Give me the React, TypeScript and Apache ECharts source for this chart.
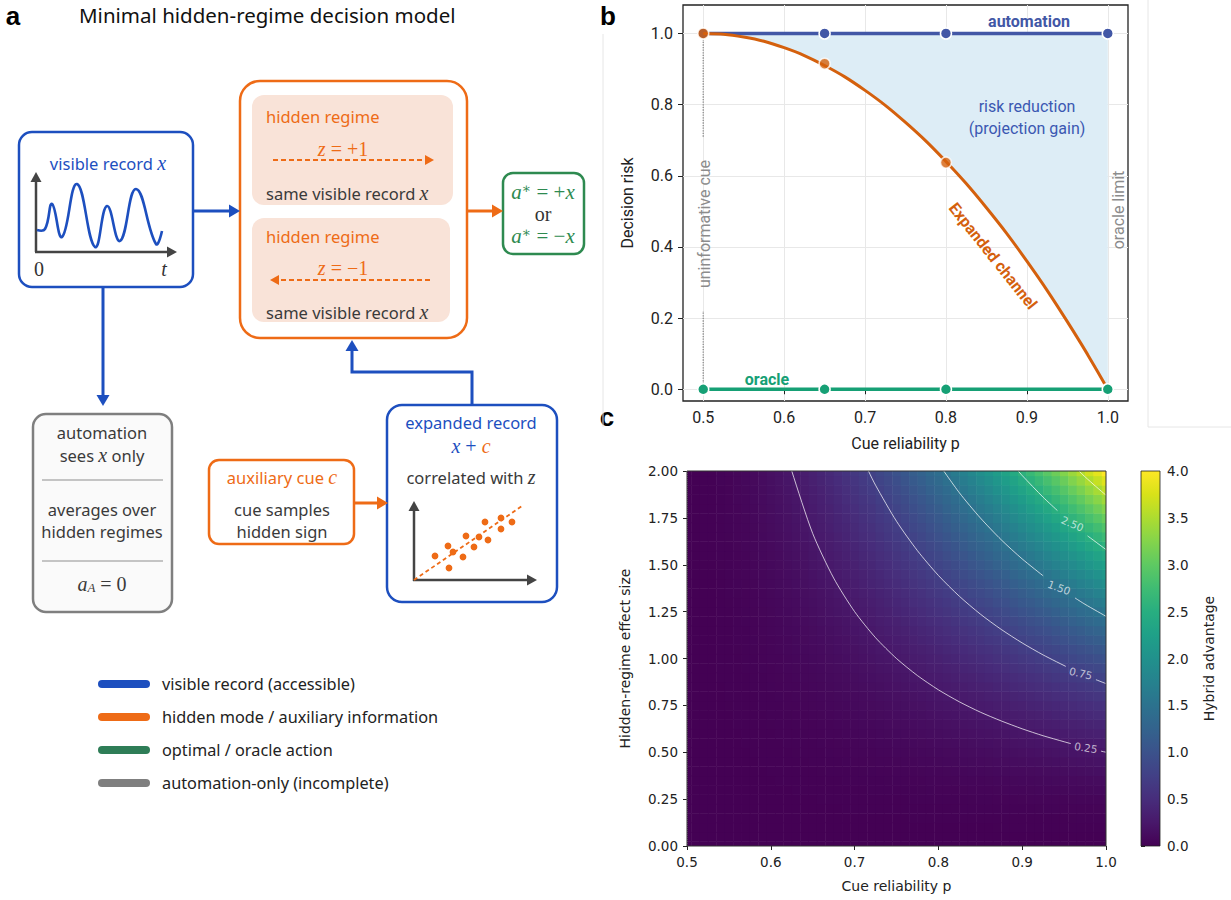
import React, { useEffect, useRef } from 'react';
import * as echarts from 'echarts';

const SANS = '"Noto Sans", "DejaVu Sans", sans-serif';
const SERIF = '"Liberation Serif", "DejaVu Serif", serif';
const PLOT = 'Roboto, "Noto Sans", sans-serif';
const MPL = '"DejaVu Sans", sans-serif';

// ---------- panel b data ----------
const reliabilityTicks = [0.5, 0.6, 0.7, 0.8, 0.9, 1.0];
const riskTicks = [0, 0.2, 0.4, 0.6, 0.8, 1.0];
const reliabilityFine = [0.5, 0.525, 0.55, 0.575, 0.6, 0.625, 0.65, 0.675, 0.7, 0.725, 0.75, 0.775, 0.8, 0.825, 0.85, 0.875, 0.9, 0.925, 0.95, 0.975, 1.0];
const expandedRisk = [1.0, 0.998, 0.99, 0.978, 0.96, 0.938, 0.91, 0.878, 0.84, 0.798, 0.75, 0.698, 0.64, 0.578, 0.51, 0.438, 0.36, 0.278, 0.19, 0.098, 0.0];
const markerReliability = [0.5, 0.65, 0.8, 1.0];
const automationRisk = [1.0, 1.0, 1.0, 1.0];
const expandedMarkerRisk = [1.0, 0.915, 0.637, 0.0];
const oracleRisk = [0.0, 0.0, 0.0, 0.0];

// ---------- panel c data ----------
const heatReliability = [0.5, 0.51, 0.52, 0.53, 0.54, 0.55, 0.56, 0.57, 0.58, 0.59, 0.6, 0.61, 0.62, 0.63, 0.64, 0.65, 0.66, 0.67, 0.68, 0.69, 0.7, 0.71, 0.72, 0.73, 0.74, 0.75, 0.76, 0.77, 0.78, 0.79, 0.8, 0.81, 0.82, 0.83, 0.84, 0.85, 0.86, 0.87, 0.88, 0.89, 0.9, 0.91, 0.92, 0.93, 0.94, 0.95, 0.96, 0.97, 0.98, 0.99, 1.0];
// advantage along the top row (effect size 2.0)
const advantageAtMaxEffect = [0, 0.0, 0.01, 0.01, 0.03, 0.04, 0.06, 0.08, 0.10, 0.13, 0.16, 0.19, 0.23, 0.27, 0.31, 0.36, 0.41, 0.46, 0.52, 0.58, 0.64, 0.71, 0.77, 0.85, 0.92, 1.00, 1.08, 1.17, 1.25, 1.35, 1.44, 1.54, 1.64, 1.74, 1.85, 1.96, 2.07, 2.19, 2.31, 2.43, 2.56, 2.69, 2.82, 2.96, 3.10, 3.24, 3.39, 3.53, 3.69, 3.84, 4.00];
const heatEffectSize = [0, 0.05, 0.1, 0.15, 0.2, 0.25, 0.3, 0.35, 0.4, 0.45, 0.5, 0.55, 0.6, 0.65, 0.7, 0.75, 0.8, 0.85, 0.9, 0.95, 1.0, 1.05, 1.1, 1.15, 1.2, 1.25, 1.3, 1.35, 1.4, 1.45, 1.5, 1.55, 1.6, 1.65, 1.7, 1.75, 1.8, 1.85, 1.9, 1.95, 2.0];
// advantage along the right column (reliability 1.0)
const advantageAtFullReliability = [0.00, 0.00, 0.01, 0.02, 0.04, 0.06, 0.09, 0.12, 0.16, 0.20, 0.25, 0.30, 0.36, 0.42, 0.49, 0.56, 0.64, 0.72, 0.81, 0.90, 1.00, 1.10, 1.21, 1.32, 1.44, 1.56, 1.69, 1.82, 1.96, 2.10, 2.25, 2.40, 2.56, 2.72, 2.89, 3.06, 3.24, 3.42, 3.61, 3.80, 4.00];

const contour025a = [[0.62, 2.083], [0.625, 2.0], [0.65, 1.667], [0.675, 1.429], [0.7, 1.25], [0.725, 1.111], [0.75, 1.0], [0.775, 0.909], [0.8, 0.833], [0.825, 0.769], [0.85, 0.714], [0.875, 0.667], [0.9, 0.625], [0.925, 0.588], [0.95, 0.556], [0.958, 0.546]];
const contour025b = [[0.994, 0.506], [1.0, 0.5]];
const contour075a = [[0.71, 2.062], [0.7165, 2.0], [0.725, 1.924], [0.75, 1.732], [0.775, 1.575], [0.8, 1.443], [0.825, 1.332], [0.85, 1.237], [0.875, 1.155], [0.9, 1.083], [0.925, 1.019], [0.952, 0.958]];
const contour075b = [[0.988, 0.887], [1.0, 0.866]];
const contour150a = [[0.8, 2.041], [0.825, 1.884], [0.85, 1.75], [0.875, 1.633], [0.9, 1.531], [0.925, 1.441]];
const contour150b = [[0.963, 1.323], [0.975, 1.289], [1.0, 1.225]];
const contour250a = [[0.89, 2.027], [0.9, 1.976], [0.925, 1.86], [0.942, 1.789]];
const contour250b = [[0.978, 1.654], [1.0, 1.581]];
const contour350a = [[0.965, 2.012], [0.975, 1.969], [0.9875, 1.919], [1.0, 1.871]];

const contourLabelText = ['0.25', '0.75', '1.50', '2.50'];
const contourLabelReliability = [0.976, 0.970, 0.944, 0.960];
const contourLabelEffect = [0.525, 0.921, 1.379, 1.719];
const contourLabelRotate = [-9, -13, -20, -23];

const viridis = ['#440154', '#48186a', '#472d7b', '#424086', '#3b528b', '#33638d', '#2c728e', '#26828e', '#21918c', '#1fa088', '#28ae80', '#3fbc73', '#5ec962', '#84d44b', '#addc30', '#d8e219', '#fde725'];

// ---------- panel a legend ----------
const legendLabels = ['visible record (accessible)', 'hidden mode / auxiliary information', 'optimal / oracle action', 'automation-only (incomplete)'];

const BLUE = '#1d4fbf';
const ORANGE = '#ee6b16';
const GREEN = '#2e8a50';
const GRAYB = '#7f7f7f';
const DARK = '#3a3a3a';
const PEACH = '#f9e3d8';
const legendColors = [BLUE, ORANGE, '#2e7d57', GRAYB];

const C_AUTO = '#4257a6';
const C_EXP = '#d4600d';
const C_ORACLE = '#16a075';
const C_FILL = '#ddedf6';

const FS = 16.5; // diagram body text
const MS = 20; // diagram math text

function txt(x: number, y: number, t: string, o: any = {}) {
  return {
    type: 'text', x, y, rotation: o.rot || 0, z: 100, silent: true,
    style: {
      text: t, x: 0, y: 0, fill: o.color || DARK, fontSize: o.size || FS,
      fontFamily: o.family || SANS, fontWeight: o.weight || 'normal',
      fontStyle: o.italic ? 'italic' : 'normal', align: o.align || 'center',
      verticalAlign: 'middle', rich: o.rich,
    },
  };
}
function seg(x1: number, y1: number, x2: number, y2: number, color: string, w: number, dash?: number[], cap = 'butt') {
  return { type: 'line', z: 100, silent: true, shape: { x1, y1, x2, y2 }, style: { stroke: color, lineWidth: w, lineDash: dash, lineCap: cap } };
}
function head(tx: number, ty: number, dir: string, color: string, len = 10, half = 6) {
  let pts: number[][] = [];
  if (dir === 'right') pts = [[tx, ty], [tx - len, ty - half], [tx - len, ty + half]];
  if (dir === 'left') pts = [[tx, ty], [tx + len, ty - half], [tx + len, ty + half]];
  if (dir === 'up') pts = [[tx, ty], [tx - half, ty + len], [tx + half, ty + len]];
  if (dir === 'down') pts = [[tx, ty], [tx - half, ty - len], [tx + half, ty - len]];
  return { type: 'polygon', z: 100, silent: true, shape: { points: pts }, style: { fill: color } };
}
function box(x: number, y: number, w: number, h: number, r: number, stroke: string | null, fill: string, lw = 2.5) {
  return { type: 'rect', z: 99, silent: true, shape: { x, y, width: w, height: h, r }, style: { stroke: stroke || 'none', fill, lineWidth: stroke ? lw : 0 } };
}
function rs(color: string, size = FS) {
  return { fontFamily: SANS, fontSize: size, fill: color, color };
}
function rm(color: string, size = MS) {
  return { fontFamily: SERIF, fontStyle: 'italic', fontSize: size, fill: color, color };
}
function rn(color: string, size = MS) {
  return { fontFamily: SERIF, fontSize: size, fill: color, color };
}

function buildGraphics() {
  const G: any[] = [];
  // panel labels & title
  const LBL = '"Liberation Sans", Arial, sans-serif';
  G.push(txt(13, 16, 'a', { size: 26, weight: 'bold', family: LBL, color: '#000' }));
  G.push(txt(79, 15, 'Minimal hidden-regime decision model', { size: 20.5, align: 'left', color: '#111' }));
  G.push(txt(608, 16, 'b', { size: 26, weight: 'bold', family: LBL, color: '#000' }));
  G.push(txt(607, 417, 'c', { size: 26, weight: 'bold', family: LBL, color: '#000' }));

  // faint panel borders
  G.push(seg(603, 34, 603, 427, '#e6e6e6', 1));
  G.push(seg(1148, 0, 1148, 427, '#e6e6e6', 1));
  G.push(seg(1148, 427, 1231, 427, '#e6e6e6', 1));

  // visible record box
  G.push(box(19, 132, 174, 155, 13, BLUE, '#fff'));
  G.push(txt(108, 163, '{s|visible record }{m|x}', { rich: { s: rs(BLUE), m: rm(BLUE) } }));
  G.push(seg(36, 252, 36, 180, '#444', 2.5));
  G.push(head(36, 172, 'up', '#444', 10, 5.5));
  G.push(seg(35, 252, 168, 252, '#444', 2.5));
  G.push(head(177, 252, 'right', '#444', 10, 5.5));
  G.push({
    type: 'polyline', z: 100, silent: true,
    shape: { points: [[37, 230], [45, 229], [52, 204], [62, 237], [77, 184], [95, 247], [107, 206], [120, 241], [136, 189], [156, 244], [162, 231]], smooth: 0.45 },
    style: { stroke: BLUE, lineWidth: 2.6, fill: 'none' },
  });
  G.push(txt(39, 269, '0', { family: SERIF, size: MS, color: '#333' }));
  G.push(txt(164, 269, 't', { family: SERIF, size: MS, italic: true, color: '#333' }));

  // arrow visible -> hidden regime
  G.push(seg(193, 211, 230, 211, BLUE, 3));
  G.push(head(240, 211, 'right', BLUE, 11, 6.5));

  // hidden regime box
  G.push(box(240, 81, 227, 257, 20, ORANGE, '#fff'));
  G.push(box(252, 95, 201, 110, 12, null, PEACH));
  G.push(box(252, 218, 198, 104, 12, null, PEACH));
  G.push(txt(266, 116, 'hidden regime', { align: 'left', color: ORANGE }));
  G.push(txt(266, 236, 'hidden regime', { align: 'left', color: ORANGE }));
  G.push(txt(343, 149, '{m|z}{n| = +1}', { rich: { m: rm(ORANGE), n: rn(ORANGE) } }));
  G.push(txt(343, 268, '{m|z}{n| = \u22121}', { rich: { m: rm(ORANGE), n: rn(ORANGE) } }));
  G.push(seg(273, 160, 425, 160, ORANGE, 2, [5, 3]));
  G.push(head(434, 160, 'right', ORANGE, 9, 5));
  G.push(seg(430, 280, 279, 280, ORANGE, 2, [5, 3]));
  G.push(head(270, 280, 'left', ORANGE, 9, 5));
  G.push(txt(266, 193, '{s|same visible record }{m|x}', { align: 'left', rich: { s: rs(DARK), m: rm(DARK) } }));
  G.push(txt(266, 312, '{s|same visible record }{m|x}', { align: 'left', rich: { s: rs(DARK), m: rm(DARK) } }));

  // arrow -> oracle box
  G.push(seg(467, 211, 493, 211, ORANGE, 3));
  G.push(head(503, 211, 'right', ORANGE, 11, 6.5));
  G.push(box(503, 173, 81, 81, 10, GREEN, '#fff'));
  const gRich = {
    m: rm(GREEN, 21),
    t: { fontFamily: SERIF, fontSize: 14, fill: GREEN, color: GREEN, verticalAlign: 'top' },
    n: rn(GREEN, 21),
  };
  G.push(txt(543, 192, '{m|a}{t|\u2217}{n| = +}{m|x}', { rich: gRich }));
  G.push(txt(543, 214, 'or', { family: SERIF, size: MS, color: '#333' }));
  G.push(txt(543, 236, '{m|a}{t|\u2217}{n| = \u2212}{m|x}', { rich: gRich }));

  // automation branch
  G.push(seg(103, 287, 103, 396, BLUE, 3));
  G.push(head(103, 406, 'down', BLUE, 11, 6.5));
  G.push(box(33, 414, 139, 198, 13, GRAYB, '#fafafa'));
  G.push(txt(102, 432, 'automation'));
  G.push(txt(102, 455, '{s|sees }{m|x}{s| only}', { rich: { s: rs(DARK), m: rm(DARK) } }));
  G.push(seg(42, 480, 163, 480, '#c4c4c4', 2));
  G.push(txt(102, 509, 'averages over'));
  G.push(txt(102, 531, 'hidden regimes'));
  G.push(seg(42, 561, 163, 561, '#c4c4c4', 2));
  G.push(txt(102, 584, '{m|a}{b|A}{n| = 0}', {
    rich: {
      m: rm(DARK), b: { fontFamily: SERIF, fontStyle: 'italic', fontSize: 13, fill: DARK, color: DARK, verticalAlign: 'bottom', padding: [6, 0, 0, 0] },
      n: rn(DARK),
    },
  }));

  // auxiliary cue
  G.push(box(209, 460, 145, 84, 10, ORANGE, '#fff'));
  G.push(txt(282, 477, '{s|auxiliary cue }{m|c}', { rich: { s: rs(ORANGE), m: rm(ORANGE) } }));
  G.push(txt(282, 509, 'cue samples'));
  G.push(txt(282, 531, 'hidden sign'));
  G.push(seg(354, 503, 378, 503, ORANGE, 3));
  G.push(head(388, 503, 'right', ORANGE, 11, 6.5));

  // expanded record
  G.push(box(387, 405, 170, 197, 15, BLUE, '#fff'));
  G.push(txt(471, 422, 'expanded record', { color: BLUE }));
  G.push(txt(471, 446, '{b|x}{p| + }{o|c}', { rich: { b: rm(BLUE), p: rn(BLUE), o: rm(ORANGE) } }));
  G.push(txt(471, 477, '{s|correlated with }{m|z}', { rich: { s: rs(DARK), m: rm(DARK) } }));
  G.push(seg(414, 581, 414, 509, '#444', 2.5));
  G.push(head(414, 501, 'up', '#444', 10, 5.5));
  G.push(seg(413, 580, 528, 580, '#444', 2.5));
  G.push(head(537, 580, 'right', '#444', 10, 5.5));
  G.push(seg(414, 580, 522, 506, ORANGE, 1.8, [4, 3]));
  const dots = [[435, 556], [448, 546], [453, 552], [449, 568], [463, 557], [466, 536], [474, 547], [479, 537], [485, 522], [488, 540], [501, 518], [501, 529], [512, 522]];
  dots.forEach(([cx, cy]) => G.push({ type: 'circle', z: 100, silent: true, shape: { cx, cy, r: 3.4 }, style: { fill: ORANGE } }));
  G.push({ type: 'polyline', z: 100, silent: true, shape: { points: [[472, 405], [472, 372], [352, 372], [352, 350]] }, style: { stroke: BLUE, lineWidth: 3, fill: 'none' } });
  G.push(head(352, 340, 'up', BLUE, 11, 6.5));

  // legend
  legendLabels.forEach((lab, i) => {
    const y = 684 + i * 33;
    G.push(seg(102, y, 146, y, legendColors[i], 8, undefined, 'round'));
    G.push(txt(162, y, lab, { align: 'left', color: '#222', size: 16.3 }));
  });

  // panel b annotations
  G.push(txt(1029, 21, 'automation', { family: PLOT, weight: 'bold', size: 16, color: C_AUTO }));
  G.push(txt(1027, 106, 'risk reduction', { family: PLOT, size: 16, color: '#3b58b2' }));
  G.push(txt(1027, 128, '(projection gain)', { family: PLOT, size: 16, color: '#3b58b2' }));
  G.push(txt(993, 256, 'Expanded channel', { family: PLOT, weight: 'bold', size: 16, color: C_EXP, rot: -0.9 }));
  G.push(txt(767, 379, 'oracle', { family: PLOT, weight: 'bold', size: 16, color: C_ORACLE }));
  G.push(txt(704, 224, 'uninformative cue', { family: PLOT, size: 16, color: '#8c8c8c', rot: Math.PI / 2 }));
  G.push(txt(1118, 210, 'oracle limit', { family: PLOT, size: 16, color: '#8c8c8c', rot: Math.PI / 2 }));

  // panel c frame & colorbar
  G.push({ type: 'rect', z: 100, silent: true, shape: { x: 687, y: 471, width: 419, height: 375 }, style: { fill: 'none', stroke: '#333', lineWidth: 1 } });
  G.push({
    type: 'rect', z: 99, silent: true, shape: { x: 1141, y: 471, width: 19, height: 375 },
    style: {
      stroke: '#222', lineWidth: 0.8,
      fill: { type: 'linear', x: 0, y: 1, x2: 0, y2: 0, colorStops: viridis.map((c, i) => ({ offset: i / (viridis.length - 1), color: c })) },
    },
  });
  return G;
}

const fmtTenth = (v: number) => { const r = Math.round(v * 10); return Math.abs(v * 10 - r) < 1e-6 ? (r / 10).toFixed(1) : ''; };
const fmtFifth = (v: number) => { const r = Math.round(v * 5); return Math.abs(v * 5 - r) < 1e-6 ? (r / 5).toFixed(1) : ''; };

function buildOption() {
  const series: any[] = [];
  // risk reduction fill
  series.push({
    type: 'custom', xAxisIndex: 0, yAxisIndex: 0, silent: true, z: 1,
    data: [[markerReliability[0], automationRisk[0]]],
    encode: { x: 0, y: 1 },
    renderItem: (_p: any, api: any) => {
      const pts: number[][] = [];
      markerReliability.forEach((p, i) => pts.push(api.coord([p, automationRisk[i]])));
      for (let i = reliabilityFine.length - 1; i >= 0; i--) pts.push(api.coord([reliabilityFine[i], expandedRisk[i]]));
      return { type: 'polygon', shape: { points: pts }, style: { fill: C_FILL } };
    },
  });
  const dotted = { color: '#8c8c8c', width: 1.3, type: 'dotted' };
  series.push({ type: 'line', xAxisIndex: 0, yAxisIndex: 0, data: [[0.5, 0], [0.5, 0.22]], symbol: 'none', lineStyle: dotted, silent: true, z: 2 });
  series.push({ type: 'line', xAxisIndex: 0, yAxisIndex: 0, data: [[0.5, 0.71], [0.5, 1.0]], symbol: 'none', lineStyle: dotted, silent: true, z: 2 });
  series.push({
    type: 'line', name: 'automation', xAxisIndex: 0, yAxisIndex: 0, z: 3,
    data: markerReliability.map((p, i) => [p, automationRisk[i]]),
    symbol: 'circle', symbolSize: 11, lineStyle: { color: C_AUTO, width: 3.5 },
    itemStyle: { color: C_AUTO, borderColor: '#fff', borderWidth: 1.5 },
  });
  series.push({
    type: 'line', name: 'Expanded channel', xAxisIndex: 0, yAxisIndex: 0, z: 4,
    data: reliabilityFine.map((p, i) => [p, expandedRisk[i]]),
    smooth: 0.2, symbol: 'none', lineStyle: { color: C_EXP, width: 3 },
  });
  series.push({
    type: 'scatter', xAxisIndex: 0, yAxisIndex: 0, z: 5,
    data: markerReliability.map((p, i) => [p, expandedMarkerRisk[i]]),
    symbolSize: 11, itemStyle: { color: C_EXP, borderColor: '#fff', borderWidth: 1.5 },
  });
  series.push({
    type: 'line', name: 'oracle', xAxisIndex: 0, yAxisIndex: 0, z: 6,
    data: markerReliability.map((p, i) => [p, oracleRisk[i]]),
    symbol: 'circle', symbolSize: 11, lineStyle: { color: C_ORACLE, width: 3.5 },
    itemStyle: { color: C_ORACLE, borderColor: '#fff', borderWidth: 1.5 },
  });

  // heatmap
  const heatData: number[][] = [];
  heatEffectSize.forEach((d, j) => {
    heatReliability.forEach((p, i) => {
      heatData.push([p, d, (advantageAtMaxEffect[i] * advantageAtFullReliability[j]) / 4]);
    });
  });
  const heatIndex = series.length;
  series.push({
    type: 'custom', xAxisIndex: 1, yAxisIndex: 1, silent: true, clip: true, z: 2,
    dimensions: ['p', 'd', 'adv'], encode: { x: 0, y: 1 },
    data: heatData,
    renderItem: (_p: any, api: any) => {
      const p = api.value(0), d = api.value(1);
      const tl = api.coord([p - 0.005, d + 0.025]);
      const br = api.coord([p + 0.005, d - 0.025]);
      return {
        type: 'rect',
        shape: { x: tl[0], y: tl[1], width: br[0] - tl[0] + 0.5, height: br[1] - tl[1] + 0.5 },
        style: { fill: api.visual('color') },
      };
    },
  });
  const contourSegments = [contour025a, contour025b, contour075a, contour075b, contour150a, contour150b, contour250a, contour250b, contour350a];
  contourSegments.forEach((s) => series.push({
    type: 'line', xAxisIndex: 1, yAxisIndex: 1, data: s, smooth: 0.25,
    symbol: 'none', silent: true, z: 5, lineStyle: { color: 'rgba(255,255,255,0.72)', width: 1 },
  }));
  series.push({
    type: 'scatter', xAxisIndex: 1, yAxisIndex: 1, silent: true, z: 6, symbolSize: 0.1,
    itemStyle: { color: 'transparent' },
    data: contourLabelText.map((t, i) => ({ name: t, value: [contourLabelReliability[i], contourLabelEffect[i]], label: { rotate: contourLabelRotate[i] } })),
    label: { show: true, position: 'inside', formatter: '{b}', color: 'rgba(255,255,255,0.85)', fontSize: 10.5, fontFamily: MPL },
  });
  series.push({
    type: 'line', xAxisIndex: 1, yAxisIndex: 1, data: [[0.5, 0], [0.5, 2]], symbol: 'none', silent: true, z: 6, clip: false,
    lineStyle: { color: 'rgba(255,255,255,0.55)', width: 1, type: 'dotted' },
  });

  const tickStyle = { color: '#222', width: 1 };
  const nameB = { fontSize: 16, fontFamily: PLOT, color: '#222' };
  const nameC = { fontSize: 14, fontFamily: MPL, color: '#222' };
  return {
    animation: false,
    backgroundColor: '#fff',
    grid: [
      { left: 683, top: 5, width: 445, height: 396, show: true, borderColor: '#222', borderWidth: 1.3, backgroundColor: 'transparent', containLabel: false, outerBoundsMode: 'none' },
      { left: 687, top: 471, width: 419, height: 375, containLabel: false, outerBoundsMode: 'none' },
      { left: 1141, top: 471, width: 19, height: 375, containLabel: false, outerBoundsMode: 'none' },
    ],
    xAxis: [
      {
        gridIndex: 0, type: 'value', min: 0.475, max: 1.025,
        axisLine: { show: false },
        axisTick: { show: true, length: 5, lineStyle: tickStyle, customValues: reliabilityTicks },
        axisLabel: { show: true, margin: 8, fontSize: 16, fontFamily: PLOT, color: '#222', formatter: fmtTenth, customValues: reliabilityTicks },
        splitLine: { show: true, lineStyle: { color: '#e8e8e8', width: 1 } },
        name: 'Cue reliability p', nameLocation: 'middle', nameGap: 34, nameTextStyle: nameB,
      },
      {
        gridIndex: 1, type: 'value', min: 0.5, max: 1.0, interval: 0.1,
        axisLine: { show: false },
        axisTick: { show: true, length: 4, lineStyle: tickStyle },
        axisLabel: { show: true, margin: 9, fontSize: 13.5, fontFamily: MPL, color: '#222', formatter: (v: number) => v.toFixed(1) },
        splitLine: { show: false },
        name: 'Cue reliability p', nameLocation: 'middle', nameGap: 33, nameTextStyle: nameC,
      },
      { gridIndex: 2, type: 'value', show: false, min: 0, max: 1 },
    ],
    yAxis: [
      {
        gridIndex: 0, type: 'value', min: -0.033, max: 1.08,
        axisLine: { show: false },
        axisTick: { show: true, length: 5, lineStyle: tickStyle, customValues: riskTicks },
        axisLabel: { show: true, margin: 10, fontSize: 16, fontFamily: PLOT, color: '#222', formatter: fmtFifth, customValues: riskTicks },
        splitLine: { show: true, lineStyle: { color: '#e8e8e8', width: 1 } },
        name: 'Decision risk', nameLocation: 'middle', nameGap: 48, nameTextStyle: nameB,
      },
      {
        gridIndex: 1, type: 'value', min: 0, max: 2, interval: 0.25,
        axisLine: { show: false },
        axisTick: { show: true, length: 4, lineStyle: tickStyle },
        axisLabel: { show: true, margin: 9, fontSize: 13.5, fontFamily: MPL, color: '#222', formatter: (v: number) => v.toFixed(2) },
        splitLine: { show: false },
        name: 'Hidden-regime effect size', nameLocation: 'middle', nameGap: 55, nameTextStyle: nameC,
      },
      {
        gridIndex: 2, type: 'value', position: 'right', min: 0, max: 4, interval: 0.5,
        axisLine: { show: false },
        axisTick: { show: true, length: 4, lineStyle: tickStyle },
        axisLabel: { show: true, margin: 7, fontSize: 13.5, fontFamily: MPL, color: '#222', formatter: (v: number) => v.toFixed(1) },
        splitLine: { show: false },
        name: 'Hybrid advantage', nameLocation: 'middle', nameGap: 42, nameRotate: 90, nameTextStyle: nameC,
      },
    ],
    visualMap: [{
      type: 'continuous', show: false, seriesIndex: heatIndex, dimension: 2, min: 0, max: 4,
      inRange: { color: viridis },
    }],
    graphic: { elements: buildGraphics() },
    series,
  };
}

export default function App() {
  const ref = useRef<HTMLDivElement>(null);
  useEffect(() => {
    const chart = echarts.init(ref.current!, null, { renderer: 'svg' });
    chart.setOption(buildOption() as any);
    return () => chart.dispose();
  }, []);
  return <div ref={ref} style={{ position: 'absolute', left: 0, top: 0, width: 1231, height: 900, background: '#fff' }} />;
}
